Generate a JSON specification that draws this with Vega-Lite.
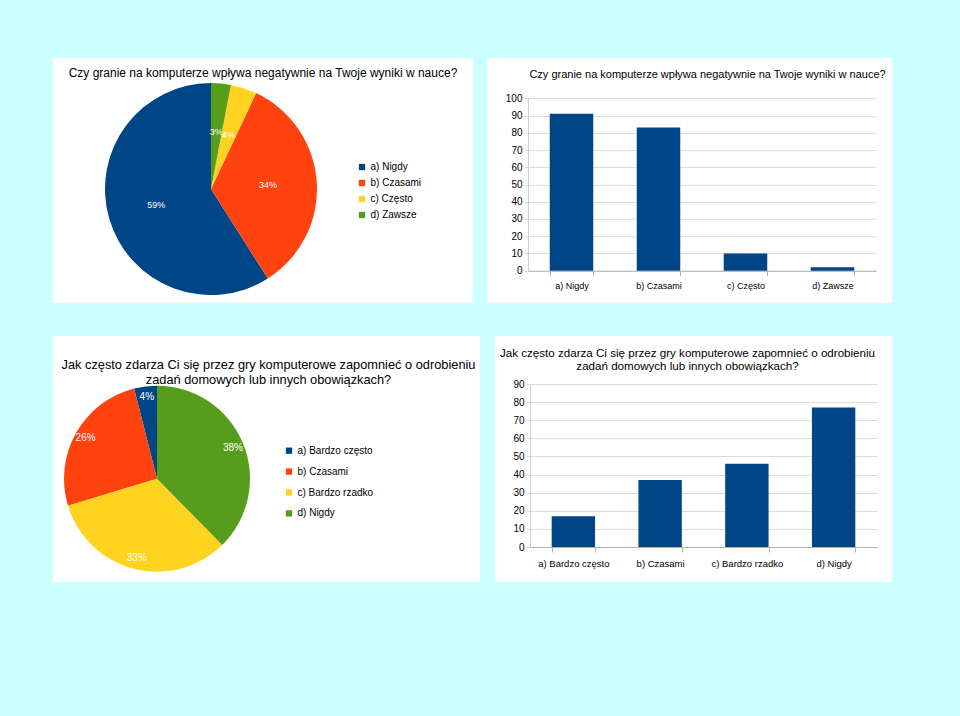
{
  "$schema": "https://vega.github.io/schema/vega-lite/v6.json",
  "background": "#ccffff",
  "padding": {"left": 53, "top": 58, "right": 68, "bottom": 134},
  "autosize": {"type": "pad"},
  "datasets": {
    "q1": [
      {"answer": "a) Nigdy", "count": 91, "share": 0.59},
      {"answer": "b) Czasami", "count": 83, "share": 0.34},
      {"answer": "c) Często", "count": 10, "share": 0.04},
      {"answer": "d) Zawsze", "count": 2, "share": 0.03}
    ],
    "q2": [
      {"answer": "a) Bardzo często", "count": 17, "share": 0.04},
      {"answer": "b) Czasami", "count": 37, "share": 0.26},
      {"answer": "c) Bardzo rzadko", "count": 46, "share": 0.33},
      {"answer": "d)  Nigdy", "count": 77, "share": 0.38}
    ]
  },
  "config": {
    "font": "Liberation Sans",
    "view": {"stroke": null, "fill": "white"}
  },
  "spacing": 33,
  "resolve": {"scale": {"color": "independent", "theta": "independent", "x": "independent", "y": "independent"}, "legend": {"color": "independent"}},
  "vconcat": [
    {
      "spacing": 14,
      "bounds": "flush",
      "resolve": {"scale": {"color": "independent", "theta": "independent", "x": "independent", "y": "independent"}, "legend": {"color": "independent"}},
      "hconcat": [
        {
          "width": 420,
          "height": 245,
          "view": {"fill": "white", "stroke": null},
          "data": {"name": "q1"},
          "title": {"text": "Czy granie na komputerze wpływa negatywnie na Twoje wyniki w nauce?", "fontSize": 12, "fontWeight": "normal", "color": "black", "baseline": "bottom", "offset": -33.8, "anchor": "middle", "frame": "group"},
          "layer": [
            {
              "mark": {"type": "arc", "outerRadius": 106, "x": 158, "y": 131},
              "encoding": {
                "theta": {"field": "share", "type": "quantitative", "stack": true},
                "order": {"field": "answer", "type": "nominal", "sort": "descending"},
                "color": {"field": "answer", "type": "nominal",
                  "scale": {"domain": ["a) Nigdy", "b) Czasami", "c) Często", "d) Zawsze"], "range": ["#004586", "#ff420e", "#ffd320", "#579d1c"]},
                  "legend": {"orient": "none", "legendX": 304, "legendY": 104, "title": null, "padding": 0, "symbolType": "square", "symbolSize": 40, "symbolStrokeWidth": 0, "labelFontSize": 10, "labelColor": "black", "labelOffset": 3.5, "rowPadding": 6}
                }
              }
            },
            {
              "mark": {"type": "text", "radius": 57, "fill": "white", "fontSize": 9, "x": 158, "y": 131},
              "encoding": {
                "theta": {"field": "share", "type": "quantitative", "stack": true},
                "order": {"field": "answer", "type": "nominal", "sort": "descending"},
                "detail": {"field": "answer", "type": "nominal"},
                "text": {"field": "share", "type": "quantitative", "format": ".0%"}
              }
            }
          ]
        },
        {
          "width": 405,
          "height": 245,
          "data": {"name": "q1"},
          "title": {"text": "Czy granie na komputerze wpływa negatywnie na Twoje wyniki w nauce?", "fontSize": 11, "fontWeight": "normal", "color": "black", "baseline": "bottom", "offset": -33.3, "anchor": "middle", "dx": 18, "frame": "group"},
          "mark": {"type": "bar", "color": "#004586"},
          "encoding": {
            "x": {"field": "answer", "type": "nominal", "sort": null,
              "scale": {"range": [41, 389], "paddingInner": 0.5, "paddingOuter": 0.25},
              "axis": {"title": null, "orient": "bottom", "offset": -32.3, "labelAngle": 0, "labelFontSize": 9, "labelColor": "black", "domainColor": "#b3b3b3", "tickColor": "#b3b3b3", "tickSize": 5, "tickBand": "extent", "labelPadding": 6, "grid": false}
            },
            "y": {"field": "count", "type": "quantitative",
              "scale": {"domain": [0, 100], "range": [212.7, 40.3], "nice": false},
              "axis": {"title": null, "offset": -41, "values": [0, 10, 20, 30, 40, 50, 60, 70, 80, 90, 100], "grid": true, "gridColor": "#dcdcdc", "domainColor": "#cfcfcf", "tickColor": "#dcdcdc", "tickSize": 4, "labelPadding": 2, "labelFontSize": 10, "labelColor": "black"}
            }
          }
        }
      ]
    },
    {
      "spacing": 15,
      "bounds": "flush",
      "resolve": {"scale": {"color": "independent", "theta": "independent", "x": "independent", "y": "independent"}, "legend": {"color": "independent"}},
      "hconcat": [
        {
          "width": 427,
          "height": 246,
          "view": {"fill": "white", "stroke": null},
          "data": {"name": "q2"},
          "title": {"text": ["Jak często zdarza Ci się przez gry komputerowe zapomnieć o odrobieniu", "zadań domowych lub innych obowiązkach?"], "fontSize": 12.8, "lineHeight": 15, "fontWeight": "normal", "color": "black", "baseline": "bottom", "offset": -63.4, "anchor": "middle", "dx": 2, "frame": "group"},
          "layer": [
            {
              "mark": {"type": "arc", "outerRadius": 93, "x": 104, "y": 142.7},
              "encoding": {
                "theta": {"field": "share", "type": "quantitative", "stack": true},
                "order": {"field": "answer", "type": "nominal", "sort": "descending"},
                "color": {"field": "answer", "type": "nominal",
                  "scale": {"domain": ["a) Bardzo często", "b) Czasami", "c) Bardzo rzadko", "d)  Nigdy"], "range": ["#004586", "#ff420e", "#ffd320", "#579d1c"]},
                  "legend": {"orient": "none", "legendX": 231, "legendY": 109.7, "title": null, "padding": 0, "symbolType": "square", "symbolSize": 40, "symbolStrokeWidth": 0, "labelFontSize": 10, "labelColor": "black", "labelOffset": 3.5, "rowPadding": 10.9}
                }
              }
            },
            {
              "mark": {"type": "text", "radius": 82, "fill": "white", "fontSize": 10, "x": 104, "y": 142.7},
              "encoding": {
                "theta": {"field": "share", "type": "quantitative", "stack": true},
                "order": {"field": "answer", "type": "nominal", "sort": "descending"},
                "detail": {"field": "answer", "type": "nominal"},
                "text": {"field": "share", "type": "quantitative", "format": ".0%"}
              }
            }
          ]
        },
        {
          "width": 397,
          "height": 246,
          "data": {"name": "q2"},
          "title": {"text": ["Jak często zdarza Ci się przez gry komputerowe zapomnieć o odrobieniu", "zadań domowych lub innych obowiązkach?"], "fontSize": 11.6, "lineHeight": 13.5, "fontWeight": "normal", "color": "black", "baseline": "bottom", "offset": -47.7, "anchor": "middle", "dx": -6, "frame": "group"},
          "mark": {"type": "bar", "color": "#004586"},
          "encoding": {
            "x": {"field": "answer", "type": "nominal", "sort": null,
              "scale": {"range": [35, 382], "paddingInner": 0.5, "paddingOuter": 0.25},
              "axis": {"title": null, "orient": "bottom", "offset": -35, "labelAngle": 0, "labelFontSize": 9.5, "labelColor": "black", "domainColor": "#b3b3b3", "tickColor": "#b3b3b3", "tickSize": 5, "tickBand": "extent", "labelPadding": 6, "grid": false}
            },
            "y": {"field": "count", "type": "quantitative",
              "scale": {"domain": [0, 90], "range": [211, 48], "nice": false},
              "axis": {"title": null, "offset": -35, "values": [0, 10, 20, 30, 40, 50, 60, 70, 80, 90], "grid": true, "gridColor": "#dcdcdc", "domainColor": "#cfcfcf", "tickColor": "#dcdcdc", "tickSize": 4, "labelPadding": 2, "labelFontSize": 10, "labelColor": "black"}
            }
          }
        }
      ]
    }
  ]
}
